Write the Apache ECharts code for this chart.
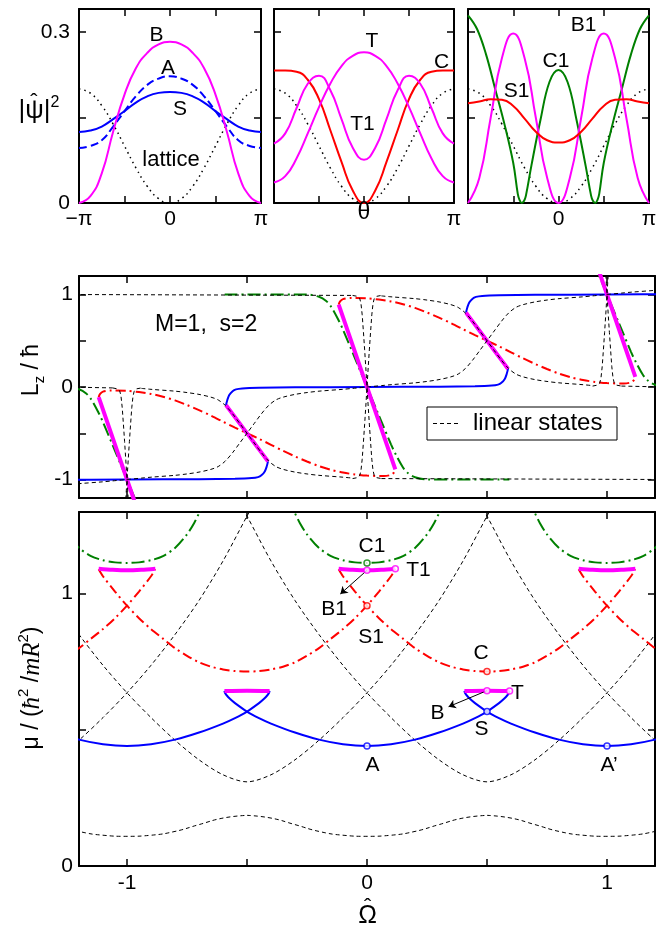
<!DOCTYPE html>
<html><head><meta charset="utf-8">
<script src="https://cdn.jsdelivr.net/npm/echarts@6/dist/echarts.min.js"></script>
<style>html,body{margin:0;padding:0;background:#fff}#c{width:668px;height:930px}</style>
</head><body><div id="c"></div>
<script>
const FONT = 'Liberation Sans, Arial, Helvetica, sans-serif';
const SERIF = 'Liberation Serif, Times New Roman, serif';
const BLUE = '#0000ff', RED = '#ff0000', MAG = '#ff00ff', GREEN = '#008000', BLACK = '#000000';

// ---------- top panels: theta in units of pi ----------
const thetaPi = [-1,-0.875,-0.75,-0.625,-0.5,-0.375,-0.25,-0.125,0,0.125,0.25,0.375,0.5,0.625,0.75,0.875,1];
const latticeV = [0.2,0.1924,0.1707,0.1383,0.1,0.0617,0.0293,0.0076,0,0.0076,0.0293,0.0617,0.1,0.1383,0.1707,0.1924,0.2];
const stateB  = [0,0.012,0.052,0.125,0.19,0.236,0.263,0.278,0.2825,0.278,0.263,0.236,0.19,0.125,0.052,0.012,0];
const stateA  = [0.0965,0.1,0.11,0.134,0.161,0.187,0.207,0.218,0.222,0.218,0.207,0.187,0.161,0.134,0.11,0.1,0.0965];
const stateS  = [0.1246,0.127,0.134,0.147,0.161,0.176,0.187,0.193,0.1947,0.193,0.187,0.176,0.161,0.147,0.134,0.127,0.1246];
const stateC  = [0.232,0.232,0.23,0.216,0.182,0.128,0.072,0.022,0,0.022,0.072,0.128,0.182,0.216,0.23,0.232,0.232];
const stateT  = [0.036,0.047,0.078,0.122,0.168,0.209,0.24,0.258,0.264,0.258,0.24,0.209,0.168,0.122,0.078,0.047,0.036];
const stateT1 = [0.104,0.122,0.166,0.209,0.223,0.198,0.147,0.097,0.076,0.097,0.147,0.198,0.223,0.209,0.166,0.122,0.104];
const stateB1 = [0,0.044,0.149,0.254,0.297,0.254,0.149,0.044,0,0.044,0.149,0.254,0.297,0.254,0.149,0.044,0];
const stateS1 = [0.175,0.178,0.182,0.181,0.17,0.148,0.125,0.11,0.106,0.11,0.125,0.148,0.17,0.181,0.182,0.178,0.175];
const stateC1 = [[-1,0.329],[-0.9,0.305],[-0.8,0.26],[-0.7,0.2],[-0.6,0.14],[-0.5,0.07],[-0.45,0.016],[-0.43,0.005],[-0.406,0],[-0.38,0.004],[-0.36,0.013],[-0.3,0.065],[-0.2,0.145],[-0.1,0.212],[0,0.233],
                 [0.1,0.212],[0.2,0.145],[0.3,0.065],[0.36,0.013],[0.38,0.004],[0.406,0],[0.43,0.005],[0.45,0.016],[0.5,0.07],[0.6,0.14],[0.7,0.2],[0.8,0.26],[0.9,0.305],[1,0.329]];

// ---------- branch centres (the diagram is periodic in Omega) ----------
const intCenters = [-1, 0, 1];
const halfCenters = [-1.5, -0.5, 0.5, 1.5];

// ---------- bottom panel: mu vs Omega, profiles [offset from centre, mu] ----------
const bandLowMu = [[-0.5,0.186],[-0.4,0.176],[-0.3,0.152],[-0.2,0.127],[-0.1,0.113],[0,0.109],[0.1,0.113],[0.2,0.127],[0.3,0.152],[0.4,0.176],[0.5,0.186]];
const bandVMu = [[-1.06,1.38],[-1,1.285],[-0.9,1.12],[-0.8,0.975],[-0.7,0.85],[-0.6,0.737],[-0.5,0.636],[-0.4,0.545],[-0.3,0.462],[-0.2,0.39],[-0.1,0.335],[0,0.309],
                 [0.1,0.335],[0.2,0.39],[0.3,0.462],[0.4,0.545],[0.5,0.636],[0.6,0.737],[0.7,0.85],[0.8,0.975],[0.9,1.12],[1,1.285],[1.06,1.38]];
const blueMu = [[-0.594,0.643],[-0.592,0.636],[-0.585,0.627],[-0.57,0.613],[-0.55,0.598],[-0.5,0.567],[-0.45,0.543],[-0.4,0.523],[-0.3,0.49],[-0.2,0.464],[-0.1,0.447],[0,0.4405],
                [0.1,0.447],[0.2,0.464],[0.3,0.49],[0.4,0.523],[0.45,0.543],[0.5,0.567],[0.55,0.598],[0.57,0.613],[0.585,0.627],[0.592,0.636],[0.594,0.643]];
const magentaMuLow = [[-0.094,0.643],[0,0.644],[0.094,0.643]];
const magentaMuHigh = [[-0.118,1.092],[-0.06,1.088],[0,1.086],[0.06,1.088],[0.118,1.092]];
const redMu = [[-0.618,1.09],[-0.6,1.064],[-0.55,1.008],[-0.5,0.956],[-0.45,0.91],[-0.4,0.87],[-0.35,0.835],[-0.3,0.8],[-0.25,0.772],[-0.2,0.748],[-0.15,0.732],[-0.1,0.722],[-0.05,0.716],[0,0.714],
               [0.05,0.716],[0.1,0.722],[0.15,0.732],[0.2,0.748],[0.25,0.772],[0.3,0.8],[0.35,0.835],[0.4,0.87],[0.45,0.91],[0.5,0.956],[0.55,1.008],[0.6,1.064],[0.618,1.09]];
const greenMu = [[-0.33,1.35],[-0.3,1.295],[-0.28,1.26],[-0.25,1.218],[-0.2,1.168],[-0.15,1.138],[-0.1,1.123],[-0.05,1.115],[0,1.113],
                 [0.05,1.115],[0.1,1.123],[0.15,1.138],[0.2,1.168],[0.25,1.218],[0.28,1.26],[0.3,1.295],[0.33,1.35]];
const markBlue = [[0,0.4405],[1,0.4405],[0.5,0.567]];
const markRed = [[0.5,0.714],[0,0.956]];
const markMag = [[0.5,0.644],[0.594,0.643],[0,1.086],[0.118,1.092]];
const markGreen = [[0,1.113]];
const arrowLines = [[[0.5,0.644],[0.34,0.585]], [[0,1.086],[-0.111,0.999]]];

// ---------- middle panel: Lz vs Omega, profiles [offset, Lz - centre] ----------
const blueL = [[-0.5875,-0.196],[-0.582,-0.14],[-0.574,-0.087],[-0.56,-0.045],[-0.546,-0.026],[-0.52,-0.015],[-0.45,-0.008],[-0.3,-0.004],[0,0],
               [0.3,0.004],[0.45,0.008],[0.52,0.015],[0.546,0.026],[0.56,0.045],[0.574,0.087],[0.582,0.14],[0.5875,0.196]];
const magentaLHalf = [[-0.0875,0.304],[0.0875,-0.304]];
const magentaLInt = [[-0.118,0.89],[0.118,-0.89]];
const redL = [[-0.618,0.89],[-0.612,0.925],[-0.6,0.95],[-0.57,0.962],[-0.5,0.958],[-0.45,0.945],[-0.4,0.925],[-0.35,0.895],[-0.3,0.855],[-0.25,0.805],[-0.2,0.75],[-0.15,0.69],[-0.1,0.625],[-0.05,0.56],[0,0.5],
              [0.05,0.44],[0.1,0.375],[0.15,0.31],[0.2,0.25],[0.25,0.195],[0.3,0.145],[0.35,0.105],[0.4,0.075],[0.45,0.055],[0.5,0.042],[0.57,0.038],[0.6,0.05],[0.612,0.075],[0.618,0.11]];
const greenL = [[-0.593,1],[-0.25,1],[-0.2,0.975],[-0.17,0.93],[-0.15,0.87],[-0.12,0.73],[-0.1,0.62],[-0.05,0.31],[0,0],
                [0.05,-0.31],[0.1,-0.62],[0.12,-0.73],[0.15,-0.87],[0.17,-0.93],[0.2,-0.975],[0.25,-1],[0.593,-1]];
const linSUp = [[-0.5,-0.5],[-0.44,-0.485],[-0.4,-0.475],[-0.3,-0.455],[-0.25,-0.44],[-0.2,-0.42],[-0.15,-0.39],[-0.12,-0.36],[-0.09,-0.3],[-0.06,-0.21],[-0.03,-0.105],[0,0],
                [0.03,0.105],[0.06,0.21],[0.09,0.3],[0.12,0.36],[0.15,0.39],[0.2,0.42],[0.25,0.44],[0.3,0.455],[0.4,0.475],[0.44,0.485],[0.5,0.5]];
const linSDown = [[-0.44,0.485],[-0.4,0.475],[-0.3,0.455],[-0.25,0.44],[-0.2,0.42],[-0.15,0.39],[-0.12,0.36],[-0.09,0.3],[-0.06,0.21],[-0.03,0.105],[0,0],
                  [0.03,-0.105],[0.06,-0.21],[0.09,-0.3],[0.12,-0.36],[0.15,-0.39],[0.2,-0.42],[0.25,-0.44],[0.3,-0.455],[0.4,-0.475],[0.44,-0.485]];
const linXDrop = [[-0.06,0.99],[-0.04,0.98],[-0.03,0.955],[-0.025,0.9],[-0.02,0.78],[-0.015,0.6],[-0.01,0.41],[-0.005,0.21],[0,0],
                  [0.005,-0.21],[0.01,-0.41],[0.015,-0.6],[0.02,-0.78],[0.025,-0.9],[0.03,-0.955],[0.04,-0.98],[0.06,-0.99]];
const linXRise = [[-0.06,-0.99],[-0.04,-0.98],[-0.03,-0.955],[-0.025,-0.9],[-0.02,-0.78],[-0.015,-0.6],[-0.01,-0.41],[-0.005,-0.21],[0,0],
                  [0.005,0.21],[0.01,0.41],[0.015,0.6],[0.02,0.78],[0.025,0.9],[0.03,0.955],[0.04,0.98],[0.06,0.99]];
const linFlatUpper = [[-1.25,1],[-0.06,0.99]];
const linFlatLower = [[0.06,-0.99],[1.25,-1]];
const linFlatLeft = [[-1.25,0],[-1.06,-0.01]];
const linFlatRight = [[1.06,0.01],[1.25,0]];

// ---------- tick values ----------
const topXTicks = [-1,-0.5,0,0.5,1];
const topYTicks = [0,0.15,0.3];
const omegaTicks = [-1,-0.5,0,0.5,1];
const lzTicks = [-1,-0.5,0,0.5,1];
const muTicks = [0,0.5,1];

// ---------- helpers ----------
function shiftPts(profile, dx, dy) { return profile.map(p => [p[0] + dx, p[1] + dy]); }
function pairs(xs, ys) { return xs.map((x, i) => [x, ys[i]]); }
const eq = (a, b) => Math.abs(a - b) < 1e-9;

function axisPair(dim, g, min, max, ticks, labels, fmt, margin) {
  const common = {
    type: 'value', gridIndex: g, min: min, max: max, splitLine: {show: false},
    axisLine: {show: true, onZero: false, lineStyle: {color: '#000', width: 2}},
    axisTick: {show: true, inside: true, length: 7, customValues: ticks, lineStyle: {color: '#000', width: 1.5}}
  };
  const main = Object.assign({}, common, {
    position: dim === 'x' ? 'bottom' : 'left',
    axisLabel: labels.length ? {show: true, customValues: labels, formatter: fmt, color: '#000', fontFamily: FONT, fontSize: 21,
      margin: margin, showMinLabel: true, showMaxLabel: true} : {show: false}
  });
  const mirror = Object.assign({}, common, {position: dim === 'x' ? 'top' : 'right', axisLabel: {show: false}});
  return [main, mirror];
}
function ln(g, data, color, width, dash, extra) {
  return Object.assign({
    type: 'line', xAxisIndex: 2 * g, yAxisIndex: 2 * g, data: data, showSymbol: false, symbol: 'none',
    smooth: 0.3, silent: true, clip: true,
    lineStyle: {color: color, width: width, type: dash || 'solid'}, z: 2
  }, extra || {});
}

const piFmt = v => eq(v, -1) ? '\u2212\u03C0' : eq(v, 1) ? '\u03C0' : eq(v, 0) ? '0' : '';
const topYFmt = v => eq(v, 0) ? '0' : eq(v, 0.3) ? '0.3' : '';
const intFmt = v => eq(v, 1) ? '1' : eq(v, 0) ? '0' : eq(v, -1) ? '-1' : '';

const grids = [
  {left: 79, top: 9, width: 182, height: 194},
  {left: 274, top: 9, width: 180, height: 194},
  {left: 468, top: 9, width: 181, height: 194},
  {left: 79, top: 276, width: 576, height: 222},
  {left: 79, top: 512, width: 576, height: 354}
];
const xAxes = [].concat(
  axisPair('x', 0, -1, 1, topXTicks, [-1, 0, 1], piFmt, 6),
  axisPair('x', 1, -1, 1, topXTicks, [1], piFmt, 6),
  axisPair('x', 2, -1, 1, topXTicks, [0, 1], piFmt, 6),
  axisPair('x', 3, -1.2, 1.2, omegaTicks, [], null, 6),
  axisPair('x', 4, -1.2, 1.2, omegaTicks, [-1, 0, 1], intFmt, 7)
);
const yAxes = [].concat(
  axisPair('y', 0, 0, 0.34, topYTicks, [0, 0.3], topYFmt, 9),
  axisPair('y', 1, 0, 0.34, topYTicks, [], null, 6),
  axisPair('y', 2, 0, 0.34, topYTicks, [], null, 6),
  axisPair('y', 3, -1.2, 1.2, lzTicks, [-1, 0, 1], intFmt, 6),
  axisPair('y', 4, 0, 1.3, muTicks, [0, 1], intFmt, 6)
);

const series = [];
const DOT = [1.5, 4], DASH_A = [8, 4], LIN = [4, 3], RDD = [10, 4, 2, 4], GDD = [13, 4, 2, 4];
const SM = {smooth: 0.5};
// top panel 1
series.push(ln(0, pairs(thetaPi, latticeV), BLACK, 1.5, DOT, SM));
series.push(ln(0, pairs(thetaPi, stateS), BLUE, 2, 'solid', SM));
series.push(ln(0, pairs(thetaPi, stateA), BLUE, 2, DASH_A, SM));
series.push(ln(0, pairs(thetaPi, stateB), MAG, 2, 'solid', SM));
// top panel 2
series.push(ln(1, pairs(thetaPi, latticeV), BLACK, 1.5, DOT, SM));
series.push(ln(1, pairs(thetaPi, stateC), RED, 2, 'solid', SM));
series.push(ln(1, pairs(thetaPi, stateT), MAG, 2, 'solid', SM));
series.push(ln(1, pairs(thetaPi, stateT1), MAG, 2, 'solid', SM));
// top panel 3
series.push(ln(2, pairs(thetaPi, latticeV), BLACK, 1.5, DOT, SM));
series.push(ln(2, stateC1, GREEN, 2, 'solid', {smooth: 0.4}));
series.push(ln(2, pairs(thetaPi, stateB1), MAG, 2, 'solid', SM));
series.push(ln(2, pairs(thetaPi, stateS1), RED, 2, 'solid', SM));

// middle panel
const SHARP = {smooth: false, z: 3};
halfCenters.forEach(h => series.push(ln(3, shiftPts(redL, h, h - 0.5), RED, 2, RDD)));
intCenters.forEach(m => series.push(ln(3, shiftPts(greenL, m, m), GREEN, 2, GDD)));
intCenters.forEach(m => series.push(ln(3, shiftPts(blueL, m, m), BLUE, 2, 'solid')));
halfCenters.forEach(h => series.push(ln(3, shiftPts(magentaLHalf, h, h), MAG, 4, 'solid', {smooth: false})));
intCenters.forEach(m => series.push(ln(3, shiftPts(magentaLInt, m, m), MAG, 4, 'solid', {smooth: false})));
halfCenters.forEach(h => {
  series.push(ln(3, shiftPts(linSUp, h, h), BLACK, 1, LIN, {z: 3}));
  series.push(ln(3, shiftPts(linSDown, h, h), BLACK, 1, LIN, {z: 3}));
});
intCenters.forEach(m => {
  series.push(ln(3, shiftPts(linXDrop, m, m), BLACK, 1, LIN, SHARP));
  series.push(ln(3, shiftPts(linXRise, m, m), BLACK, 1, LIN, SHARP));
});
[linFlatUpper, linFlatLower, linFlatLeft, linFlatRight].forEach(d => series.push(ln(3, d, BLACK, 1, LIN, SHARP)));

// bottom panel
intCenters.forEach(m => series.push(ln(4, shiftPts(bandLowMu, m, 0), BLACK, 1, LIN, SM)));
halfCenters.forEach(h => series.push(ln(4, shiftPts(bandVMu, h, 0), BLACK, 1, LIN)));
halfCenters.forEach(h => series.push(ln(4, shiftPts(redMu, h, 0), RED, 2, RDD)));
intCenters.forEach(m => series.push(ln(4, shiftPts(greenMu, m, 0), GREEN, 2, GDD)));
intCenters.forEach(m => series.push(ln(4, shiftPts(blueMu, m, 0), BLUE, 2, 'solid')));
halfCenters.forEach(h => series.push(ln(4, shiftPts(magentaMuLow, h, 0), MAG, 4, 'solid')));
intCenters.forEach(m => series.push(ln(4, shiftPts(magentaMuHigh, m, 0), MAG, 4, 'solid')));
series.push({type: 'lines', coordinateSystem: 'cartesian2d', xAxisIndex: 8, yAxisIndex: 8, silent: true,
  data: arrowLines.map(c => ({coords: c})), symbol: ['none', 'arrow'], symbolSize: 7,
  lineStyle: {color: '#000', width: 1, opacity: 1}, z: 8});
[[markBlue, BLUE], [markRed, RED], [markMag, MAG], [markGreen, GREEN]].forEach(([d, c]) => series.push({
  type: 'scatter', xAxisIndex: 8, yAxisIndex: 8, data: d, symbol: 'circle', symbolSize: 6, silent: true,
  itemStyle: {color: '#fff', borderColor: c, borderWidth: 1.5}, z: 10
}));

// ---------- texts ----------
function txt(x, y, text, size, extra) {
  return {type: 'text', x: x, y: y, z: 100, silent: true,
    style: Object.assign({text: text, fontSize: size, fontFamily: FONT, fill: '#000', align: 'center', verticalAlign: 'middle'}, extra || {})};
}
const graphics = [
  txt(156.5, 35, 'B', 21), txt(168, 68, 'A', 21), txt(180, 109, 'S', 21), txt(171, 159.5, 'lattice', 22),
  txt(372, 41.5, 'T', 21), txt(362.5, 124, 'T1', 21), txt(441.5, 62, 'C', 21),
  txt(583.5, 25, 'B1', 21), txt(556, 61, 'C1', 21), txt(516.7, 91.7, 'S1', 21),
  txt(364, 213, '\u03B8', 23),
  {type: 'text', x: 39, y: 111, z: 100, silent: true, style: {text: '{a||\u03C8|}{p|2}', align: 'center', verticalAlign: 'middle',
    rich: {a: {fontSize: 26, fontFamily: FONT, lineHeight: 32, verticalAlign: 'middle'}, p: {fontSize: 16, fontFamily: FONT, lineHeight: 32, verticalAlign: 'top'}}}},
  txt(34, 103, '\u02C6', 22),
  txt(155, 325, 'M=1,  s=2', 23, {align: 'left'}),
  {type: 'text', x: 32, y: 370, rotation: Math.PI / 2, z: 100, silent: true, style: {text: '{a|L}{s|z}{a| / \u0127}', align: 'center', verticalAlign: 'middle',
    rich: {a: {fontSize: 23, fontFamily: FONT, lineHeight: 30, verticalAlign: 'middle'}, s: {fontSize: 15, fontFamily: FONT, lineHeight: 30, verticalAlign: 'bottom'}}}},
  {type: 'rect', z: 100, silent: true, shape: {x: 427, y: 407, width: 190, height: 33}, style: {fill: '#fff', stroke: '#000', lineWidth: 1}},
  {type: 'line', z: 101, silent: true, shape: {x1: 433, y1: 423.5, x2: 461, y2: 423.5}, style: {stroke: '#000', lineWidth: 1, lineDash: [4, 3]}},
  txt(473, 423.5, 'linear states', 24, {align: 'left'}),
  {type: 'text', x: 32, y: 688, rotation: Math.PI / 2, z: 100, silent: true, style: {text: '{a|\u03BC / (}{i|\u0127}{p|2}{a| /}{i|mR}{p|2}{a|)}', align: 'center', verticalAlign: 'middle',
    rich: {a: {fontSize: 23, fontFamily: FONT, lineHeight: 32, verticalAlign: 'middle'},
           i: {fontSize: 25, fontFamily: SERIF, fontStyle: 'italic', lineHeight: 32, verticalAlign: 'middle'},
           p: {fontSize: 15, fontFamily: FONT, lineHeight: 32, verticalAlign: 'top'}}}},
  txt(372.5, 765.5, 'A', 21), txt(609, 765.5, 'A\u2019', 21), txt(481.5, 729, 'S', 21), txt(437.5, 713.5, 'B', 21),
  txt(517.5, 693.5, 'T', 21), txt(481, 653.5, 'C', 21), txt(372, 546.5, 'C1', 21), txt(418.5, 570.5, 'T1', 21),
  txt(371, 637.5, 'S1', 21), txt(334, 609, 'B1', 21),
  txt(367.7, 916, '\u03A9', 25), txt(367.7, 908, '\u02C6', 22)
];

const chart = echarts.init(document.getElementById('c'), null, {renderer: 'canvas'});
chart.setOption({
  animation: false, backgroundColor: '#fff',
  grid: grids, xAxis: xAxes, yAxis: yAxes, series: series, graphic: graphics
});
</script></body></html>
